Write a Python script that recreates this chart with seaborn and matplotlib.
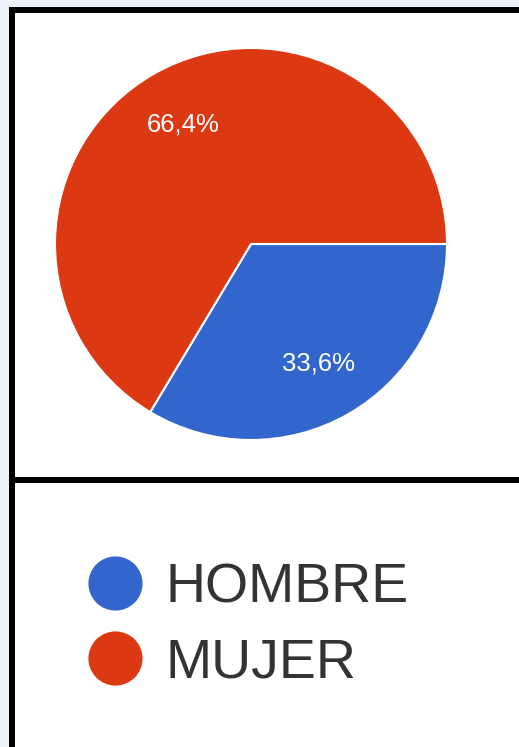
import matplotlib
matplotlib.use("Agg")
import matplotlib.pyplot as plt
from matplotlib.lines import Line2D
from matplotlib.patches import Rectangle
import seaborn as sns

# datos
categorias = ["HOMBRE", "MUJER"]
porcentajes = [33.6, 66.4]
colores = ["#3366cc", "#dc3912"]

sns.set_style("white")
plt.rcParams['font.family'] = ['Liberation Sans', 'DejaVu Sans']

W, H = 519, 747
fig = plt.figure(figsize=(W / 100, H / 100), dpi=100)
fig.patch.set_facecolor("#edf2f8")


def fx(px):
    return px / W


def fy(py):
    return 1 - py / H


# panel blanco y marco negro
fig.add_artist(Rectangle((fx(12), 0), 1 - fx(12), fy(10), transform=fig.transFigure,
                         facecolor="white", edgecolor="none", zorder=0))
lw = 6 * 72 / 100
marco = dict(transform=fig.transFigure, color="black", lw=lw, solid_capstyle="butt")
fig.add_artist(Line2D([fx(9), 1], [fy(10), fy(10)], **marco))
fig.add_artist(Line2D([fx(12), fx(12)], [0, fy(7)], **marco))
fig.add_artist(Line2D([fx(9), 1], [fy(480), fy(480)], **marco))

# pastel
ax = fig.add_axes([fx(55), fy(440), fx(447) - fx(55), fy(48) - fy(440)])
wedges, texts, autotexts = ax.pie(
    porcentajes, colors=colores, startangle=0, counterclock=False,
    autopct=lambda p: f"{p:.1f}%".replace(".", ","), pctdistance=0.70,
    wedgeprops=dict(edgecolor="white", linewidth=1.5),
    textprops=dict(color="white", fontsize=18.5),
)
ax.set_xlim(-1, 1)
ax.set_ylim(-1, 1)
ax.set_aspect("equal")
ax.axis("off")

# leyenda
handles = [Line2D([], [], marker="o", linestyle="none", markersize=38,
                  markerfacecolor=c, markeredgecolor=c) for c in colores]
fig.legend(handles, categorias, loc="center left", bbox_to_anchor=(fx(87), fy(626)),
           frameon=False, fontsize=40, handlelength=1.0, handletextpad=0.42,
           borderpad=0, borderaxespad=0, labelspacing=0.4, labelcolor="#333333")

fig.savefig("out.png", dpi=100, facecolor=fig.get_facecolor())
